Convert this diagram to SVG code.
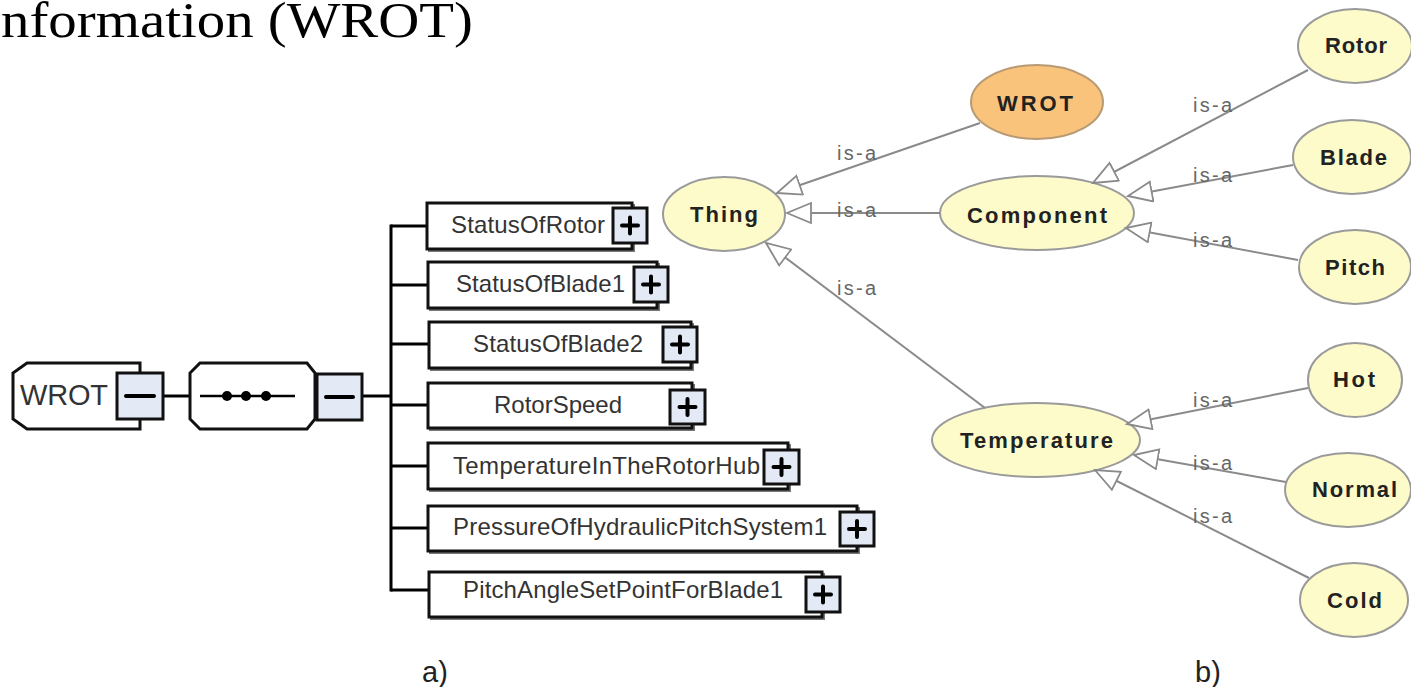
<svg xmlns="http://www.w3.org/2000/svg" width="1411" height="687" viewBox="0 0 1411 687">
<style>
.blk{fill:none;stroke:#000;stroke-width:3}
.box{fill:#fff;stroke:#111;stroke-width:3}
.shadow{fill:none;stroke:#777;stroke-width:2}
.btn{fill:#e3e9f5;stroke:#111;stroke-width:3}
.sign{stroke:#000;stroke-width:4;stroke-linecap:round}
.lbl{font-family:"Liberation Sans",Arial,sans-serif;font-size:24px;fill:#333}
.el{fill:#fdfbc9;stroke:#9a9a9a;stroke-width:2}
.elo{fill:#f9c37c;stroke:#b89a74;stroke-width:2}
.et{font-family:"Liberation Sans",Arial,sans-serif;font-size:22px;font-weight:bold;fill:#222}
.isa{font-family:"Liberation Sans",Arial,sans-serif;font-size:20px;fill:#666}
.edge{stroke:#8a8a8a;stroke-width:2;fill:none;marker-end:url(#tri)}
.cap{font-family:"Liberation Sans",Arial,sans-serif;font-size:29px;fill:#222}
</style>
<defs>
<marker id="tri" markerUnits="userSpaceOnUse" markerWidth="28" markerHeight="24" refX="25" refY="11" orient="auto">
<path d="M25,11 L1,1 L1,21 Z" fill="#fff" stroke="#8a8a8a" stroke-width="1.8"/>
</marker>
</defs>
<rect width="1411" height="687" fill="#fff"/>
<text x="1" y="37" font-family="'Liberation Serif','Times New Roman',serif" font-size="50" textLength="472" lengthAdjust="spacingAndGlyphs" fill="#000">nformation (WROT)</text>

<g id="connectors">
<line class="blk" x1="163" y1="396" x2="190" y2="396"/>
<line class="blk" x1="362" y1="396" x2="391" y2="396"/>
<line class="blk" x1="391" y1="224.5" x2="391" y2="591.5"/>
<line class="blk" x1="391" y1="226" x2="427" y2="226"/>
<line class="blk" x1="391" y1="285" x2="428" y2="285"/>
<line class="blk" x1="391" y1="344" x2="429" y2="344"/>
<line class="blk" x1="391" y1="405" x2="428" y2="405"/>
<line class="blk" x1="391" y1="466" x2="428" y2="466"/>
<line class="blk" x1="391" y1="528" x2="428" y2="528"/>
<line class="blk" x1="391" y1="590" x2="429" y2="590"/>
</g>

<g id="a-wrot">
<path class="box" d="M27,363 H140 V429 H27 L13,419 V373 Z"/>
<text class="lbl" x="20" y="405" style="font-size:29px" textLength="88">WROT</text>
<rect class="btn" x="117" y="373" width="46" height="46"/>
<line class="sign" x1="126" y1="396" x2="154" y2="396" stroke-width="5"/>
</g>
<g id="a-ellipsis">
<path class="box" d="M200,363 H307 L315,373 V419 L307,429 H200 L190,419 V373 Z"/>
<line x1="200" y1="396" x2="295" y2="396" stroke="#000" stroke-width="2.5"/>
<circle cx="227" cy="396" r="5"/><circle cx="246" cy="396" r="5"/><circle cx="266" cy="396" r="5"/>
<rect class="btn" x="317" y="374" width="45" height="46"/>
<line class="sign" x1="326" y1="397" x2="353" y2="397" stroke-width="5"/>
</g>

<g id="a-statusofrotor">
<rect class="shadow" x="429" y="205" width="205" height="46"/>
<rect class="box" x="427" y="203" width="205" height="46"/>
<text class="lbl" x="451" y="233" textLength="154">StatusOfRotor</text>
<rect class="btn" x="613" y="208" width="34" height="35"/>
<path class="sign" d="M622,225.5 H638 M630,217.5 V233.5"/>
</g>
<g id="a-statusofblade1">
<rect class="shadow" x="430" y="264" width="229" height="46"/>
<rect class="box" x="428" y="262" width="229" height="46"/>
<text class="lbl" x="456" y="292" textLength="169">StatusOfBlade1</text>
<rect class="btn" x="634" y="267" width="34" height="35"/>
<path class="sign" d="M643,284.5 H659 M651,276.5 V292.5"/>
</g>
<g id="a-statusofblade2">
<rect class="shadow" x="431" y="324" width="262" height="46"/>
<rect class="box" x="429" y="322" width="262" height="46"/>
<text class="lbl" x="473" y="352" textLength="170">StatusOfBlade2</text>
<rect class="btn" x="663" y="327" width="34" height="35"/>
<path class="sign" d="M672,344.5 H688 M680,336.5 V352.5"/>
</g>
<g id="a-rotorspeed">
<rect class="shadow" x="430" y="385" width="264" height="45"/>
<rect class="box" x="428" y="383" width="264" height="45"/>
<text class="lbl" x="494" y="413" textLength="128">RotorSpeed</text>
<rect class="btn" x="670" y="390" width="35" height="34"/>
<path class="sign" d="M679.5,407 H695.5 M687.5,399 V415"/>
</g>
<g id="a-temperature">
<rect class="shadow" x="430" y="445" width="360" height="46"/>
<rect class="box" x="428" y="443" width="360" height="46"/>
<text class="lbl" x="453" y="474" textLength="307">TemperatureInTheRotorHub</text>
<rect class="btn" x="764" y="450" width="35" height="34"/>
<path class="sign" d="M773.5,467 H789.5 M781.5,459 V475"/>
</g>
<g id="a-pressure">
<rect class="shadow" x="430" y="508" width="429" height="45"/>
<rect class="box" x="428" y="506" width="429" height="45"/>
<text class="lbl" x="453" y="535" textLength="374">PressureOfHydraulicPitchSystem1</text>
<rect class="btn" x="840" y="512" width="34" height="34"/>
<path class="sign" d="M849,529 H865 M857,521 V537"/>
</g>
<g id="a-pitchangle">
<rect class="shadow" x="431" y="574" width="393" height="45"/>
<rect class="box" x="429" y="572" width="393" height="45"/>
<text class="lbl" x="463" y="598" textLength="320">PitchAngleSetPointForBlade1</text>
<rect class="btn" x="806" y="577" width="34" height="35"/>
<path class="sign" d="M815,594.5 H831 M823,586.5 V602.5"/>
</g>

<text class="cap" x="422" y="682" textLength="26">a)</text>
<text class="cap" x="1195" y="682" textLength="26">b)</text>

<g id="b-wrot"><ellipse class="elo" cx="1037" cy="102" rx="66" ry="37"/><text class="et" x="997" y="111" textLength="76">WROT</text></g>
<g id="b-thing"><ellipse class="el" cx="724" cy="214" rx="61" ry="37"/><text class="et" x="690" y="222" textLength="68">Thing</text></g>
<g id="b-component"><ellipse class="el" cx="1037" cy="213" rx="97" ry="37"/><text class="et" x="967" y="223" textLength="140">Component</text></g>
<g id="b-rotor"><ellipse class="el" cx="1355" cy="46" rx="57" ry="37"/><text class="et" x="1325" y="53" textLength="62">Rotor</text></g>
<g id="b-blade"><ellipse class="el" cx="1352" cy="157" rx="59" ry="37"/><text class="et" x="1320" y="165" textLength="67">Blade</text></g>
<g id="b-pitch"><ellipse class="el" cx="1355" cy="267" rx="56" ry="37"/><text class="et" x="1325" y="275" textLength="60">Pitch</text></g>
<g id="b-temperature"><ellipse class="el" cx="1036" cy="440" rx="104" ry="37"/><text class="et" x="960" y="448" textLength="153">Temperature</text></g>
<g id="b-hot"><ellipse class="el" cx="1355" cy="380" rx="47" ry="37"/><text class="et" x="1333" y="387" textLength="42">Hot</text></g>
<g id="b-normal"><ellipse class="el" cx="1348" cy="490" rx="63" ry="37"/><text class="et" x="1312" y="497" textLength="85">Normal</text></g>
<g id="b-cold"><ellipse class="el" cx="1354" cy="600" rx="54" ry="37"/><text class="et" x="1327" y="608" textLength="55">Cold</text></g>

<g id="b-connectors">
<line class="edge" x1="980" y1="123" x2="777" y2="193"/>
<line class="edge" x1="940" y1="213" x2="787" y2="213"/>
<line class="edge" x1="985" y1="408" x2="766" y2="243"/>
<line class="edge" x1="1308" y1="70" x2="1093" y2="183"/>
<line class="edge" x1="1293" y1="165" x2="1128" y2="196"/>
<line class="edge" x1="1298" y1="260" x2="1126" y2="228"/>
<line class="edge" x1="1308" y1="388" x2="1127" y2="424"/>
<line class="edge" x1="1286" y1="482" x2="1134" y2="455"/>
<line class="edge" x1="1309" y1="578" x2="1095" y2="470"/>
<text class="isa" x="837" y="160" textLength="39">is-a</text>
<text class="isa" x="837" y="217" textLength="39">is-a</text>
<text class="isa" x="837" y="295" textLength="39">is-a</text>
<text class="isa" x="1193" y="112" textLength="39">is-a</text>
<text class="isa" x="1193" y="182" textLength="39">is-a</text>
<text class="isa" x="1193" y="247" textLength="39">is-a</text>
<text class="isa" x="1193" y="407" textLength="39">is-a</text>
<text class="isa" x="1193" y="470" textLength="39">is-a</text>
<text class="isa" x="1193" y="523" textLength="39">is-a</text>
</g>
</svg>
